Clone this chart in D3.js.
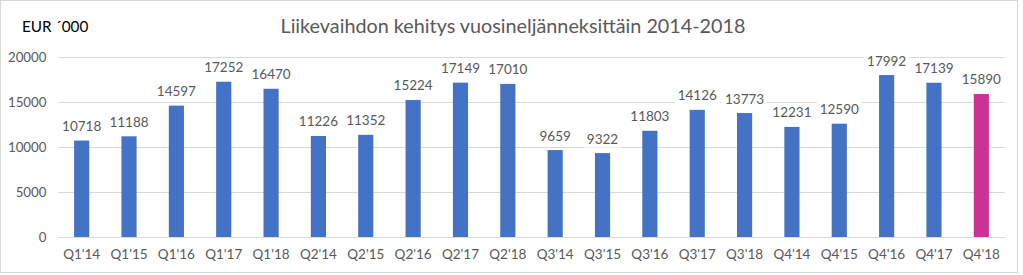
<!DOCTYPE html>
<html><head><meta charset="utf-8">
<script src="https://cdn.jsdelivr.net/npm/d3@7"></script>
<style>body{margin:0;background:#fff}svg{display:block}</style>
</head><body>
<svg id="c" width="1023" height="275"></svg>
<script>
const categories = ["Q1'14","Q1'15","Q1'16","Q1'17","Q1'18","Q2'14","Q2'15","Q2'16","Q2'17","Q2'18","Q3'14","Q3'15","Q3'16","Q3'17","Q3'18","Q4'14","Q4'15","Q4'16","Q4'17","Q4'18"];
const values = [10718,11188,14597,17252,16470,11226,11352,15224,17149,17010,9659,9322,11803,14126,13773,12231,12590,17992,17139,15890];
const yTicks = [0,5000,10000,15000,20000];
const title = "Liikevaihdon kehitys vuosineljänneksittäin 2014-2018";
const unitLabel = "EUR \u00B4000";

const font = "Lato, 'Open Sans', sans-serif";
const svg = d3.select("#c");
svg.append("rect").attr("x",0.5).attr("y",0.5).attr("width",1017).attr("height",272)
  .attr("fill","#fff").attr("stroke","#d9d9d9");

const x = d3.scaleBand().domain(categories).range([58,1005]).paddingInner(0.68).paddingOuter(0.34);
const y = d3.scaleLinear().domain([0,20000]).range([237,57]);

// gridlines
svg.append("g").selectAll("line").data(yTicks).join("line")
  .attr("x1",58).attr("x2",1005).attr("y1",d=>y(d)+0.5).attr("y2",d=>y(d)+0.5)
  .attr("stroke","#d9d9d9").attr("stroke-width",1);

// y axis labels
const yAxis = d3.axisLeft(y).tickValues(yTicks).tickSize(0).tickPadding(0).tickFormat(d3.format("d"));
const ya = svg.append("g").attr("transform","translate(46.5,0)").call(yAxis);
ya.select(".domain").remove();
ya.selectAll("text").attr("font-family",font).attr("font-size",13.3).attr("fill","#595959");

// x axis labels
const xAxis = d3.axisBottom(x).tickSize(0).tickPadding(12);
const xa = svg.append("g").attr("transform","translate(0,237)").call(xAxis);
xa.select(".domain").remove();
xa.selectAll("text").attr("font-family",font).attr("font-size",13.5).attr("fill","#595959");

// bars
svg.append("g").selectAll("rect").data(values).join("rect")
  .attr("x",(d,i)=>x(categories[i])).attr("width",x.bandwidth())
  .attr("y",d=>y(d)).attr("height",d=>y(0)-y(d))
  .attr("fill",(d,i)=>i===values.length-1?"#CC3399":"#4472C4");

// labels with white backgrounds
const lg = svg.append("g");
values.forEach((v,i)=>{
  const cx = x(categories[i]) + x.bandwidth()/2;
  const ty = y(v) - 9.5;
  const t = lg.append("text").attr("x",cx).attr("y",ty).attr("text-anchor","middle")
    .attr("font-family",font).attr("font-size",13.5).attr("fill","#595959").text(d3.format("d")(v));
  const b = t.node().getBBox();
  lg.insert("rect","text").attr("x",b.x-3).attr("y",b.y-1).attr("width",b.width+6).attr("height",b.height+2).attr("fill","#fff");
});

svg.append("text").attr("x",513).attr("y",33).attr("text-anchor","middle")
  .attr("font-family",font).attr("font-size",19.8).attr("fill","#595959").text(title);
svg.append("text").attr("x",22).attr("y",32)
  .attr("font-family",font).attr("font-size",15.3).attr("fill","#000").text(unitLabel);
</script>
</body></html>
